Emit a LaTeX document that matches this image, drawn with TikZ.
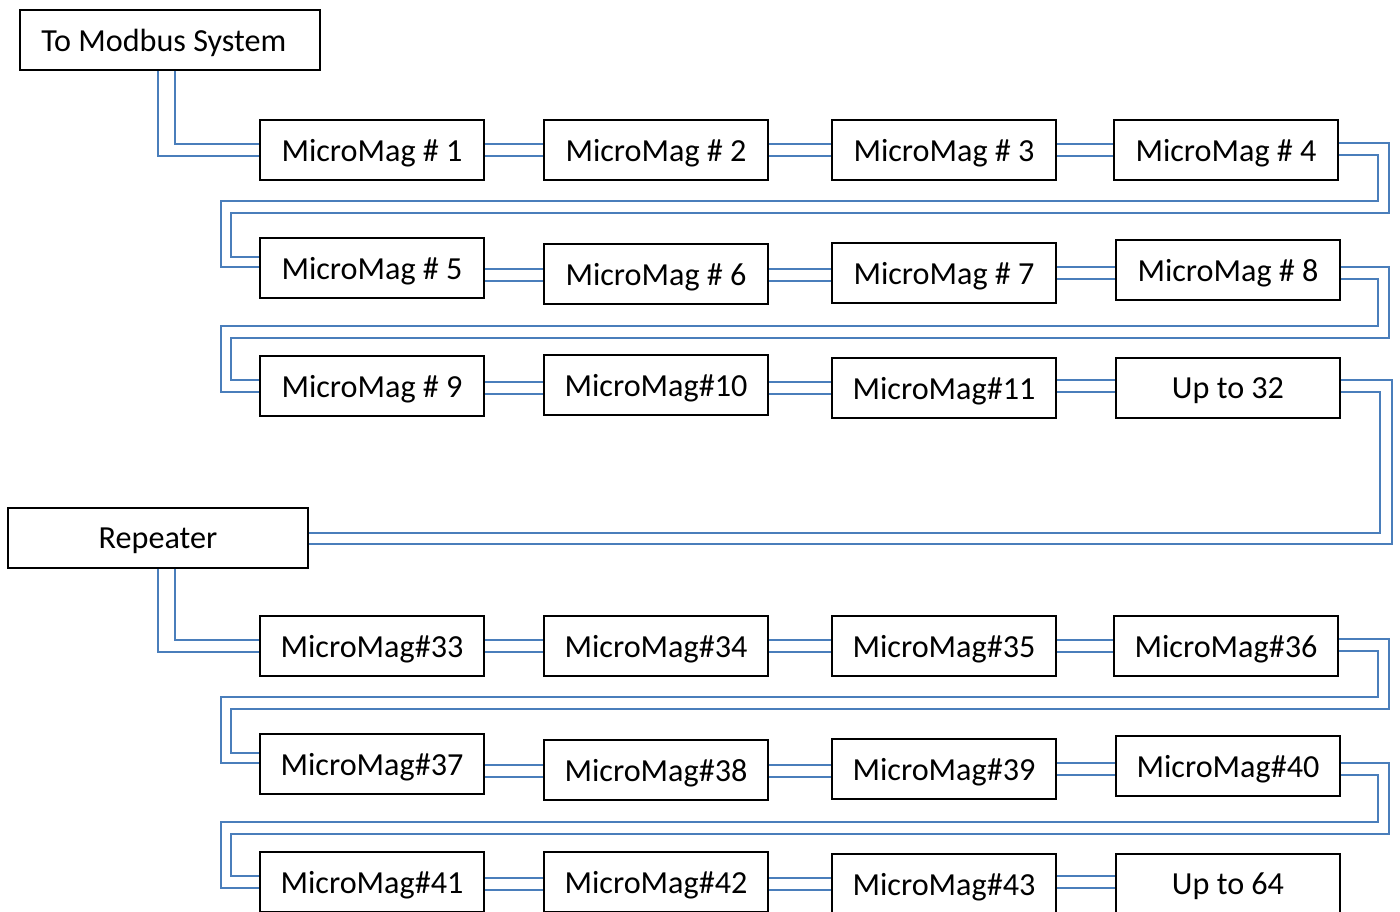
\documentclass[tikz,border=0pt]{standalone}
\usepackage{fontspec}
\setmainfont{Carlito}
\usepackage{tikz}
\definecolor{wireblue}{RGB}{74,126,187}

\begin{document}
\begin{tikzpicture}[x=0.02cm,y=-0.02cm,
    unit/.style={draw=black,line width=1.1pt,minimum width=4.48cm,minimum height=1.2cm,
      inner sep=0pt,text depth=0pt,font=\fontsize{18.3}{21}\selectfont},
    head/.style={unit,minimum width=6cm},
    wire/.style={draw=wireblue,line width=1.2pt}]
  \useasboundingbox (0,0) rectangle (1400,912);
  % boxes
  \node[head] (modbus) at (170,40) {\hspace*{-7pt}To Modbus System};
  \node[unit] (m1) at (372,150) {MicroMag \# 1};
  \node[unit] (m2) at (656,150) {MicroMag \# 2};
  \node[unit] (m3) at (944,150) {MicroMag \# 3};
  \node[unit] (m4) at (1226,150) {MicroMag \# 4};
  \node[unit] (m5) at (372,268) {MicroMag \# 5};
  \node[unit] (m6) at (656,274) {MicroMag \# 6};
  \node[unit] (m7) at (944,273) {MicroMag \# 7};
  \node[unit] (m8) at (1228,270) {MicroMag \# 8};
  \node[unit] (m9) at (372,386) {MicroMag \# 9};
  \node[unit] (m10) at (656,385) {MicroMag\#10};
  \node[unit] (m11) at (944,388) {MicroMag\#11};
  \node[unit] (up32) at (1228,388) {Up to 32};
  \node[head] (rep) at (158,538) {Repeater};
  \node[unit] (m33) at (372,646) {MicroMag\#33};
  \node[unit] (m34) at (656,646) {MicroMag\#34};
  \node[unit] (m35) at (944,646) {MicroMag\#35};
  \node[unit] (m36) at (1226,646) {MicroMag\#36};
  \node[unit] (m37) at (372,764) {MicroMag\#37};
  \node[unit] (m38) at (656,770) {MicroMag\#38};
  \node[unit] (m39) at (944,769) {MicroMag\#39};
  \node[unit] (m40) at (1228,766) {MicroMag\#40};
  \node[unit] (m41) at (372,882) {MicroMag\#41};
  \node[unit] (m42) at (656,882) {MicroMag\#42};
  \node[unit] (m43) at (944,884) {MicroMag\#43};
  \node[unit] (up64) at (1228,884) {Up to 64};

  % links inside a row
  \foreach \a/\b/\ya/\yb in {m1/m2/144/156,m2/m3/144/156,m3/m4/144/156,
      m5/m6/269/281,m6/m7/269/281,m7/m8/267/279,
      m9/m10/382/394,m10/m11/382/394,m11/up32/380/392,
      m33/m34/640/652,m34/m35/640/652,m35/m36/640/652,
      m37/m38/765/777,m38/m39/765/777,m39/m40/763/775,
      m41/m42/878/890,m42/m43/878/890,m43/up64/876/888}
  {
    \draw[wire] (\a.east |- 0,\ya) -- (\b.west |- 0,\ya);
    \draw[wire] (\a.east |- 0,\yb) -- (\b.west |- 0,\yb);
  }

  % bus in from the top
  \draw[wire] (modbus.south -| 158,0) |- (m1.west |- 0,156);
  \draw[wire] (modbus.south -| 175,0) |- (m1.west |- 0,144);

  % wrap round to next row
  \foreach \a/\b/\ya/\yb/\ha/\hb/\ea/\eb in {m4/m5/143/155/213/201/257/267,
      m8/m9/267/279/338/326/380/392,
      m36/m37/639/651/709/697/753/763,
      m40/m41/763/775/834/822/876/888}
  {
    \draw[wire] (\a.east |- 0,\ya) -- (1389,\ya) -- (1389,\ha) -- (231,\ha)
      -- (231,\ea) -- (\b.west |- 0,\ea);
    \draw[wire] (\a.east |- 0,\yb) -- (1378,\yb) -- (1378,\hb) -- (221,\hb)
      -- (221,\eb) -- (\b.west |- 0,\eb);
  }

  % to the repeater
  \draw[wire] (up32.east |- 0,380) -- (1392,380) -- (1392,544) -- (rep.east |- 0,544);
  \draw[wire] (up32.east |- 0,392) -- (1380,392) -- (1380,533) -- (rep.east |- 0,533);
  \draw[wire] (rep.south -| 158,0) |- (m33.west |- 0,652);
  \draw[wire] (rep.south -| 175,0) |- (m33.west |- 0,640);
\end{tikzpicture}
\end{document}
